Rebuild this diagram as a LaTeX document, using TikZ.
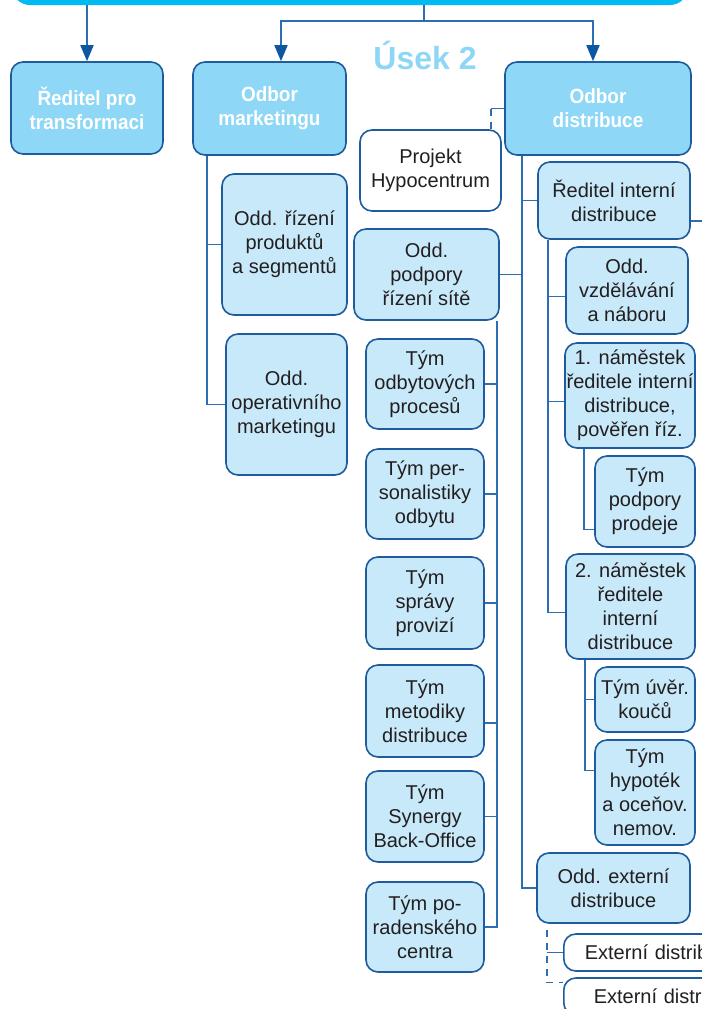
\documentclass[tikz,border=0pt]{standalone}
\usepackage{fontspec}
\setmainfont{Liberation Sans}
\newfontfamily\headfont{Liberation Sans}[FakeStretch=0.92]
\usepackage{tikz}
\usetikzlibrary{calc}
\usetikzlibrary{shapes}
\usetikzlibrary{arrows.meta}
\definecolor{barcyan}{HTML}{00BAF2}
\definecolor{headfill}{HTML}{8ED7F6}
\definecolor{unitfill}{HTML}{C7E9F9}
\definecolor{edgeblue}{HTML}{1F5C9E}
\definecolor{linkblue}{HTML}{2F6DB2}
\definecolor{tipblue}{HTML}{0D56A2}
\definecolor{usekblue}{HTML}{8DD6F6}
\definecolor{ink}{HTML}{231F20}

\begin{document}
\begin{tikzpicture}[x=0.5pt, y=-0.5pt,
  box/.style={draw=edgeblue, line width=0.8pt, rounded corners=6pt, align=center, inner sep=0pt, font=\fontsize{10}{12}\selectfont},
  head/.style={box, fill=headfill, text=white, font=\headfont\bfseries\fontsize{10.3}{12}\selectfont},
  unit/.style={box, fill=unitfill, text=ink},
  blank/.style={box, fill=white, text=ink},
  sz/.style 2 args={minimum width=#1*0.5pt, minimum height=#2*0.5pt},
  link/.style={draw=linkblue, line width=0.85pt},
  arr/.style={-{Triangle[length=8pt, width=6.5pt, color=tipblue]}},
  dashlink/.style={link, dash pattern=on 3.5pt off 3pt}]
  \useasboundingbox (0,0) rectangle (702,1009);
  \clip (0,0) rectangle (702,1009);

  \node[fill=barcyan, rounded corners=9pt, sz={676}{30}, inner sep=0pt] (bar) at (350,-10) {};
  \node[font=\bfseries\fontsize{16}{19}\selectfont, text=usekblue] (usek) at (425,55) {Úsek 2};

  \node[head, sz={152}{92}] (trans) at (87,108) {Ředitel pro\\transformaci};
  \node[head, sz={153}{93}] (mkt) at (269.5,108.5) {Odbor\\marketingu};
  \node[head, sz={186}{93}] (dist) at (598,108.5) {Odbor\\distribuce};

  \node[unit, sz={125}{141}] (prod) at (284.5,244.5) {Odd. řízení\\produktů\\a segmentů};
  \node[unit, sz={121}{141}] (oper) at (286.5,404.5) {Odd.\\operativního\\marketingu};

  \node[blank, sz={141}{81}] (proj) at (430.5,170.5) {Projekt\\Hypocentrum};
  \node[unit, sz={145}{91}] (podp) at (426.5,274.5) {Odd.\\podpory\\řízení sítě};
  \node[unit, sz={118}{90}] (t1) at (425,384) {Tým\\odbytových\\procesů};
  \node[unit, sz={118}{90}] (t2) at (425,494) {Tým per-\\sonalistiky\\odbytu};
  \node[unit, sz={118}{92}] (t3) at (425,603) {Tým\\správy\\provizí};
  \node[unit, sz={118}{92}] (t4) at (425,711) {Tým\\metodiky\\distribuce};
  \node[unit, sz={118}{91}] (t5) at (425,816.5) {Tým\\Synergy\\Back-Office};
  \node[unit, sz={118}{90}] (t6) at (425,927) {Tým po-\\radenského\\centra};

  \node[unit, sz={152}{77}] (rint) at (614,200.5) {Ředitel interní\\distribuce};
  \node[unit, sz={122}{87}] (vzd) at (627,290.5) {Odd.\\vzdělávání\\a náboru};
  \node[unit, sz={130}{105}] (nam1) at (630,395.5) {1. náměstek\\ředitele interní\\distribuce,\\pověřen říz.};
  \node[unit, sz={100}{91}] (pod) at (645,501.5) {Tým\\podpory\\prodeje};
  \node[unit, sz={129}{105}] (nam2) at (630.5,606.5) {2. náměstek\\ředitele\\interní\\distribuce};
  \node[unit, sz={100}{65}] (uver) at (645,699.5) {Tým úvěr.\\koučů};
  \node[unit, sz={100}{105}] (hyp) at (645,792.5) {Tým\\hypoték\\a oceňov.\\nemov.};
  \node[unit, sz={153}{70}] (ext) at (613.5,888) {Odd. externí\\distribuce};
  \node[blank, anchor=west, minimum height=18.5pt, text width=90pt, inner xsep=10.5pt, align=left] (ex1) at (563,952.5) {Externí distrib};
  \node[blank, anchor=west, minimum height=18.5pt, text width=90pt, inner xsep=15pt, align=left] (ex2) at (563,996.5) {Externí distr};

  \coordinate (fork) at (424,21);
  \draw[link, arr] (trans.north |- bar.south) -- (trans.north);
  \draw[link] (bar.south -| fork) -- (fork);
  \draw[link, arr] (fork) -| ([xshift=5.75pt]mkt.north);
  \draw[link, arr] (fork) -| ([xshift=-2.5pt]dist.north);

  \coordinate (mbus) at (207,0);
  \draw[link] (mkt.south -| mbus) |- (oper.west);
  \draw[link] (mbus |- prod.west) -- (prod.west);

  \coordinate (phook) at (491,108.5);
  \draw[link] (dist.west) -- (phook);
  \draw[dashlink] (phook) -- (phook |- proj.north);

  \coordinate (dbus) at (522,0);
  \draw[link] (dist.south -| dbus) |- (ext.west);
  \draw[link] (dbus |- rint.west) -- (rint.west);
  \draw[link] (dbus |- podp.east) -- (podp.east);

  \coordinate (tbus) at (497,0);
  \draw[link] (podp.south -| tbus) |- (t6.east);
  \foreach \t in {t1,t2,t3,t5}
    \draw[link] (\t.east) -- (\t.east -| tbus);
  \draw[link] ([yshift=-6pt]t4.east) -- ([yshift=-6pt]t4.east -| tbus);

  \coordinate (rbus) at (548,0);
  \coordinate (rout) at (710,221);
  \draw[link] (rint.east |- rout) -- (rout);
  \draw[link] (rint.south -| rbus) |- ([yshift=-3pt]nam2.west);
  \foreach \n in {vzd,nam1}
    \draw[link] ([yshift=-3pt]\n.west) -- ([yshift=-3pt]\n.west -| rbus);

  \coordinate (n1bus) at (584,0);
  \draw[link] (nam1.south -| n1bus) |- ([yshift=-14pt]pod.west);

  \coordinate (n2bus) at (585,0);
  \draw[link] (nam2.south -| n2bus) |- ([yshift=11pt]hyp.west);
  \draw[link] (n2bus |- uver.west) -- (uver.west);

  \coordinate (ebus) at (547,0);
  \draw[dashlink] ([yshift=-3pt]ext.south -| ebus) |- ([yshift=7pt]ex2.west);
  \draw[link] (ebus |- ex1.west) -- (ex1.west);
\end{tikzpicture}
\end{document}
